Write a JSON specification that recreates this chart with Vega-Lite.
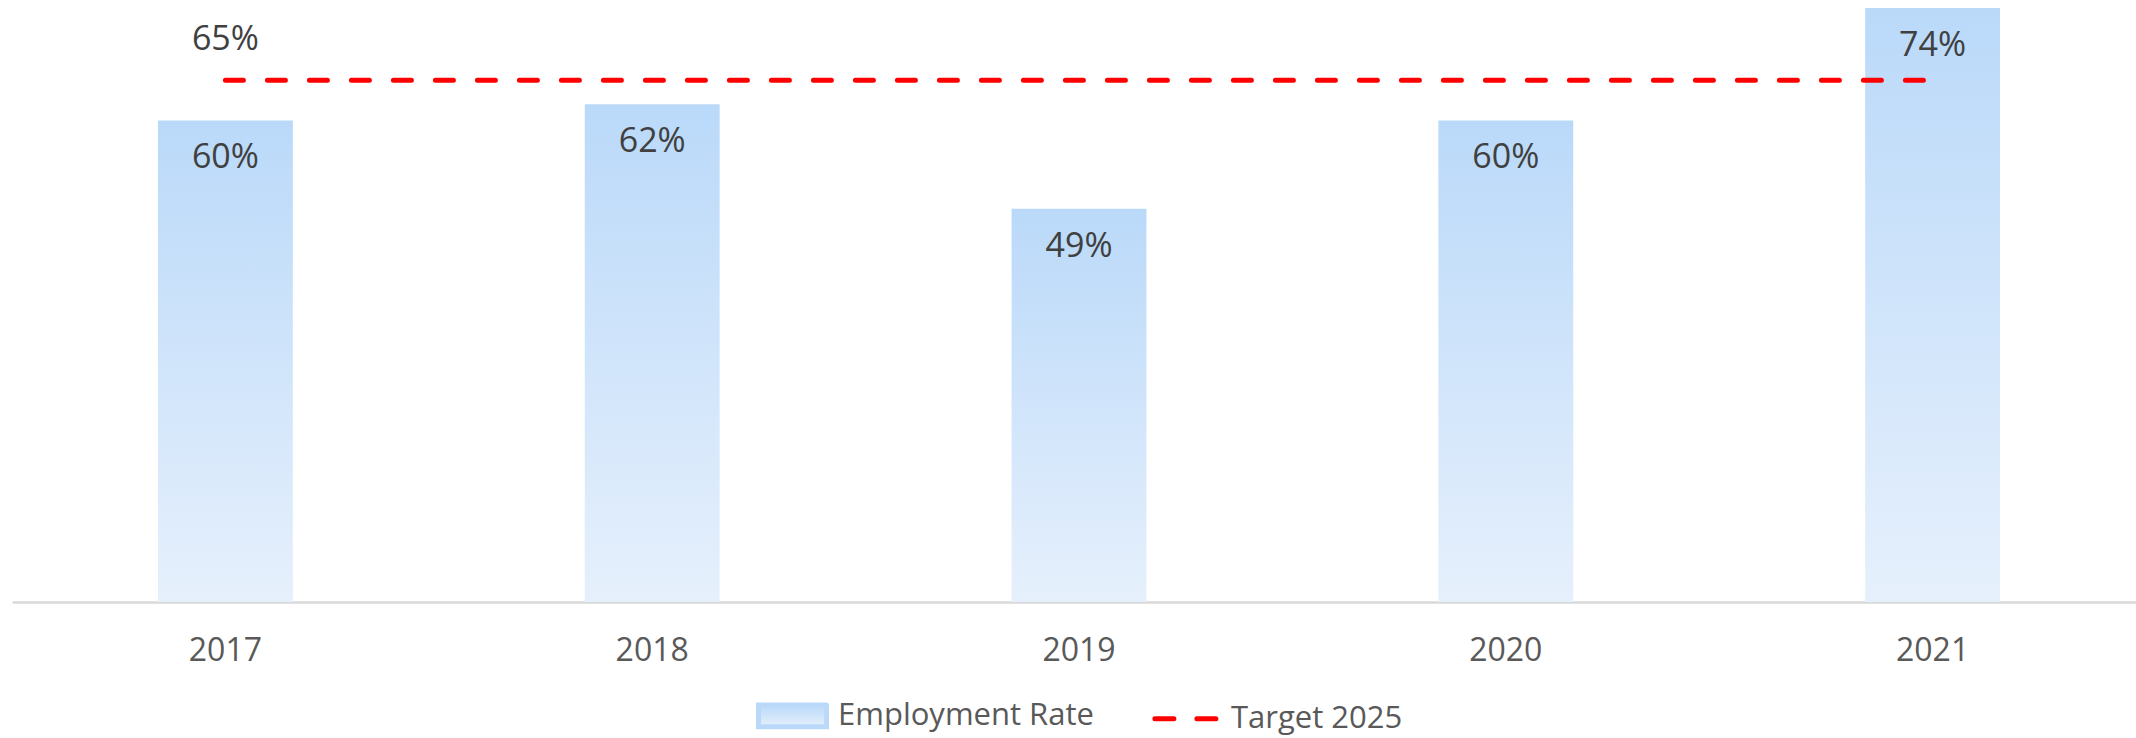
{
  "$schema": "https://vega.github.io/schema/vega-lite/v6.json",
  "width": 2124,
  "height": 602,
  "autosize": {"type": "none"},
  "padding": {"left": 12, "top": 0, "right": 0, "bottom": 136},
  "background": "white",
  "config": {
    "font": "Open Sans",
    "view": {"stroke": null}
  },
  "data": {
    "values": [
      {"year": "2017", "rate": 0.60, "target": 0.65},
      {"year": "2018", "rate": 0.62, "target": 0.65},
      {"year": "2019", "rate": 0.49, "target": 0.65},
      {"year": "2020", "rate": 0.60, "target": 0.65},
      {"year": "2021", "rate": 0.74, "target": 0.65}
    ]
  },
  "encoding": {
    "x": {
      "field": "year",
      "type": "ordinal",
      "scale": {"range": [0, 2134], "paddingInner": 0.684, "paddingOuter": 0.342},
      "axis": {
        "title": null,
        "labelAngle": 0,
        "ticks": false,
        "grid": false,
        "domainColor": "#d9d9d9",
        "domainWidth": 2.5,
        "labelPadding": 33,
        "labelFont": "Open Sans",
        "labelFontSize": 32,
        "labelColor": "#595959"
      }
    }
  },
  "layer": [
    {
      "mark": {
        "type": "bar",
        "color": {
          "gradient": "linear",
          "x1": 0, "y1": 0, "x2": 0, "y2": 1,
          "stops": [
            {"offset": 0, "color": "#bad9f9"},
            {"offset": 1, "color": "#e6f0fc"}
          ]
        }
      },
      "encoding": {
        "y": {
          "field": "rate",
          "type": "quantitative",
          "scale": {"domain": [0, 0.75], "nice": false, "zero": true},
          "axis": null
        }
      }
    },
    {
      "mark": {
        "type": "line",
        "strokeWidth": 5,
        "strokeDash": [18, 24],
        "strokeCap": "round"
      },
      "encoding": {
        "y": {"field": "target", "type": "quantitative"},
        "color": {
          "datum": "Target 2025",
          "type": "nominal",
          "scale": {"domain": ["Employment Rate", "Target 2025"], "range": ["#bad9f9", "#ff0000"]},
          "legend": {
            "title": null,
            "orient": "none",
            "direction": "horizontal",
            "legendX": 744,
            "legendY": 679,
            "symbolSize": 4624,
            "symbolType": "M-1,-0.32H1V0.32H-1Z",
            "symbolStrokeWidth": 5,
            "labelFont": "Open Sans",
            "labelFontSize": 31,
            "labelColor": "#595959",
            "labelLimit": 0,
            "labelOffset": 9,
            "columnPadding": 50,
            "encode": {
              "symbols": {
                "update": {
                  "shape": {"signal": "datum.value === 'Employment Rate' ? 'M-1,-0.32H1V0.32H-1Z' : 'M-0.9,0H0.9'"},
                  "fill": {"signal": "datum.value === 'Employment Rate' ? {gradient: 'linear', x1: 0, y1: 0, x2: 0, y2: 1, stops: [{offset: 0, color: '#bad9f9'}, {offset: 1, color: '#e6f0fc'}]} : 'transparent'"},
                  "stroke": {"signal": "datum.value === 'Employment Rate' ? 'transparent' : '#ff0000'"},
                  "strokeDash": {"signal": "datum.value === 'Employment Rate' ? [1, 0] : [19, 23]"},
                  "strokeWidth": {"value": 5},
                  "strokeCap": {"value": "round"},
                  "opacity": {"value": 1}
                }
              }
            }
          }
        }
      }
    },
    {
      "mark": {
        "type": "text",
        "baseline": "middle",
        "align": "center",
        "dy": 38,
        "font": "Open Sans",
        "fontSize": 34,
        "color": "#404040"
      },
      "encoding": {
        "y": {"field": "rate", "type": "quantitative"},
        "text": {"field": "rate", "type": "quantitative", "format": ".0%"}
      }
    },
    {
      "transform": [{"filter": "datum.year === '2017'"}],
      "mark": {
        "type": "text",
        "baseline": "middle",
        "align": "center",
        "dy": -40,
        "font": "Open Sans",
        "fontSize": 34,
        "color": "#404040"
      },
      "encoding": {
        "y": {"field": "target", "type": "quantitative"},
        "text": {"field": "target", "type": "quantitative", "format": ".0%"}
      }
    }
  ]
}
